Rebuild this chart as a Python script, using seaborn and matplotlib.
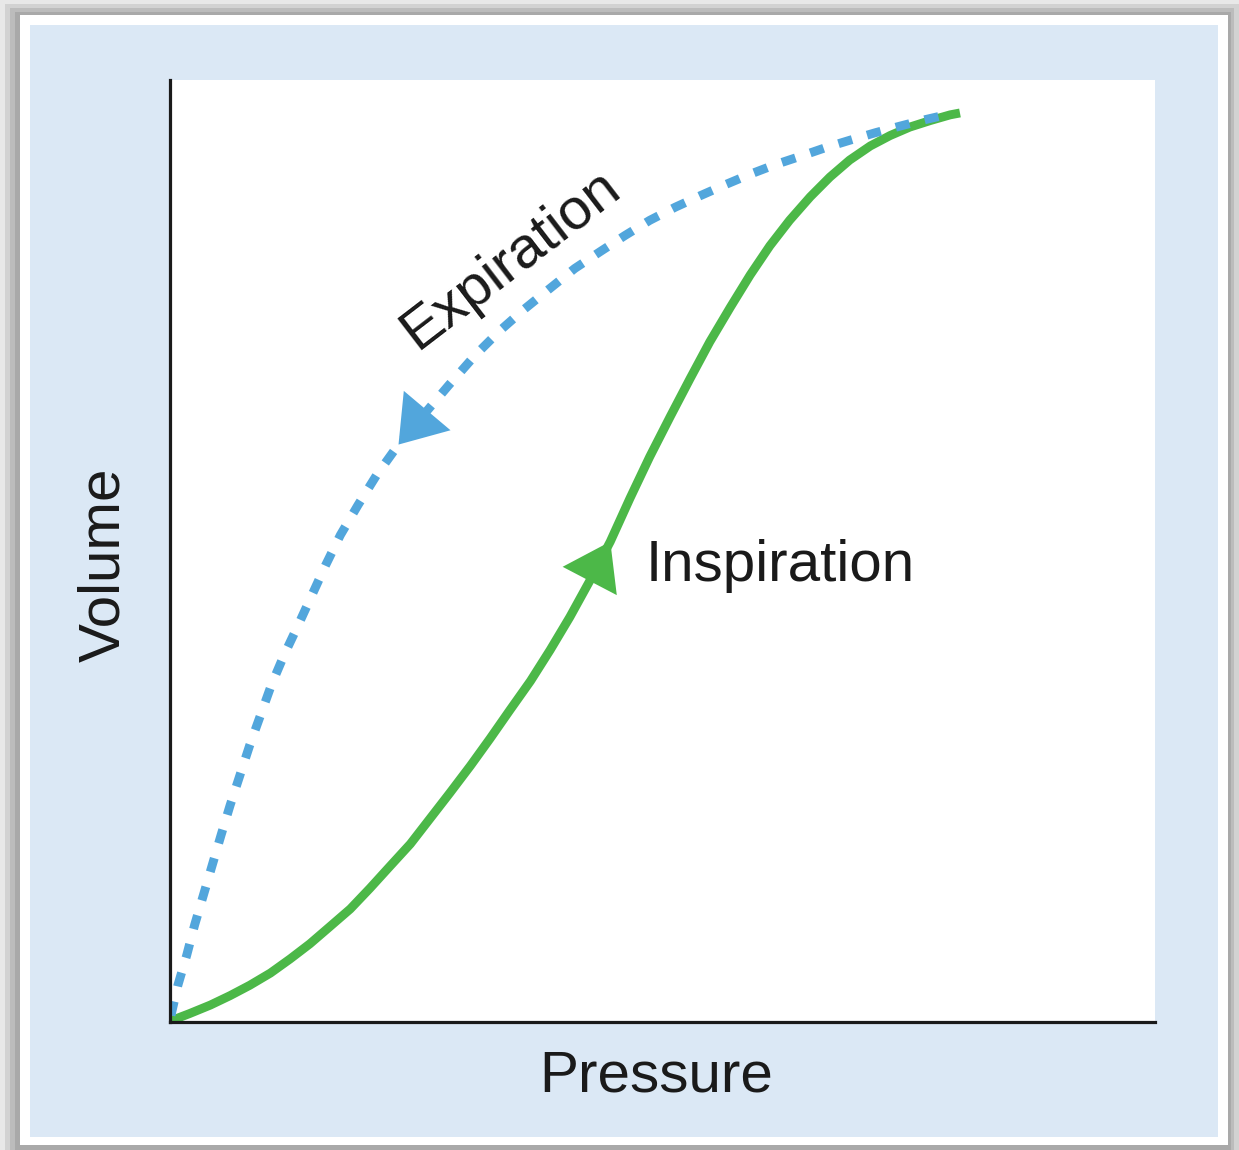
import matplotlib
matplotlib.use("Agg")
import matplotlib.pyplot as plt
from matplotlib.patches import Rectangle
import pandas as pd
import seaborn as sns

# Inspiration limb (solid green), pressure vs volume in arbitrary units
insp_pressure = [0.0, 2.0, 4.1, 6.1, 8.1, 10.2, 12.2, 14.2, 16.2, 18.3, 20.3, 22.3, 24.4,
                 26.4, 28.4, 30.5, 32.5, 34.5, 36.6, 38.6, 40.6, 42.6, 44.7, 46.7, 48.7,
                 50.8, 52.8, 54.8, 56.9, 58.9, 60.9, 62.9, 65.0, 67.0, 69.0, 71.1, 73.1,
                 75.1, 77.2, 79.2, 80.2]
insp_volume = [0.1, 0.9, 1.8, 2.8, 3.9, 5.2, 6.7, 8.3, 10.1, 12.0, 14.2, 16.5, 18.9,
               21.6, 24.3, 27.2, 30.1, 33.1, 36.2, 39.5, 43.0, 46.8, 51.0, 55.6, 60.0,
               64.3, 68.3, 72.2, 75.9, 79.3, 82.4, 85.1, 87.6, 89.7, 91.5, 93.0, 94.1,
               95.0, 95.7, 96.3, 96.5]

# Expiration limb (dashed blue)
exp_pressure = [0.1, 0.8, 1.7, 2.5, 3.4, 4.3, 5.2, 6.1, 7.1, 8.1, 9.2, 10.3, 11.6, 13.0,
                14.4, 15.8, 17.3, 19.1, 21.0, 23.2, 25.7, 28.3, 31.0, 33.5, 36.0, 38.6,
                41.1, 43.7, 46.2, 48.7, 51.3, 53.8, 56.4, 58.9, 61.4, 64.0, 66.5, 69.0,
                71.6, 74.1, 76.7, 79.2]
exp_volume = [0.7, 3.9, 7.1, 10.3, 13.5, 16.7, 19.9, 23.0, 26.2, 29.4, 32.6, 35.8, 39.0,
              42.1, 45.3, 48.5, 51.7, 54.9, 58.1, 61.3, 64.4, 67.6, 70.8, 73.4, 75.7,
              77.9, 80.0, 81.8, 83.5, 85.1, 86.5, 87.7, 88.9, 90.0, 91.0, 91.9, 92.8,
              93.6, 94.4, 95.1, 95.8, 96.4]

phases = ["Inspiration", "Expiration"]
x_label = "Pressure"
y_label = "Volume"

# direction arrows sit on these segments (from -> to)
insp_arrow = (21, 22)
exp_arrow = (20, 19)

GREEN = "#4cb848"
BLUE = "#52a6dc"
FRAME_BLUE = "#dbe8f5"
INK = "#1a1a1a"

df = pd.concat([
    pd.DataFrame({"pressure": insp_pressure, "volume": insp_volume, "phase": phases[0]}),
    pd.DataFrame({"pressure": exp_pressure, "volume": exp_volume, "phase": phases[1]}),
], ignore_index=True)

sns.set_style("white")
plt.rcParams["font.family"] = ["Liberation Sans", "DejaVu Sans"]

W, H = 1239, 1150
fig = plt.figure(figsize=(W / 100, H / 100), dpi=100)
fig.patch.set_facecolor("#e8e8e8")


def px_rect(x0, y0, x1, y1, color):
    fig.patches.append(Rectangle((x0 / W, 1 - y1 / H), (x1 - x0) / W, (y1 - y0) / H,
                                 transform=fig.transFigure, facecolor=color,
                                 edgecolor="none", zorder=-10))


# outer shadowed frame, white mat and light-blue panel
px_rect(5, 4, 1239, 1150, "#d2d2d2")
px_rect(10, 8, 1234, 1150, "#bcbcbc")
px_rect(15, 12, 1231, 1150, "#a9a9a9")
px_rect(20, 15, 1228, 1145, "white")
px_rect(30, 25, 1218, 1137, FRAME_BLUE)

ax = fig.add_axes([170 / W, 1 - 1022 / H, 985 / W, 942 / H])
ax.set_facecolor("white")

sns.lineplot(data=df, x="pressure", y="volume", hue="phase", style="phase",
             palette={phases[0]: GREEN, phases[1]: BLUE},
             dashes={phases[0]: "", phases[1]: (1.6, 1.75)},
             linewidth=6.4, sort=False, estimator=None, legend=False, ax=ax)
for line in ax.lines:
    line.set_dash_capstyle("butt")
    line.set_solid_capstyle("butt")
    line.set_solid_joinstyle("round")
    line.set_dash_joinstyle("round")

# arrowheads showing the direction of each limb
for xs, ys, (i0, i1), col in [(insp_pressure, insp_volume, insp_arrow, GREEN),
                              (exp_pressure, exp_volume, exp_arrow, BLUE)]:
    ax.annotate("", xy=(xs[i1], ys[i1]), xytext=(xs[i0], ys[i0]),
                arrowprops=dict(arrowstyle="-|>,head_length=3.2,head_width=2.2",
                                color=col, lw=0, shrinkA=0, shrinkB=0,
                                mutation_scale=10),
                zorder=5)

ax.set_xlim(0, 100)
ax.set_ylim(0, 100)
ax.set_xticks([])
ax.set_yticks([])
for side in ["top", "right"]:
    ax.spines[side].set_visible(False)
for side in ["left", "bottom"]:
    ax.spines[side].set_color(INK)
    ax.spines[side].set_linewidth(2.3)

ax.set_xlabel(x_label, fontsize=42, color=INK)
ax.xaxis.set_label_coords(0.494, -0.058)
ax.xaxis.label.set_verticalalignment("center")
ax.set_ylabel(y_label, fontsize=42, color=INK)
ax.yaxis.set_label_coords(-0.067, 0.485)
ax.yaxis.label.set_verticalalignment("center")

ax.text(48.3, 46.8, phases[0], fontsize=42, color=INK,
        ha="left", va="baseline")
ax.text(35.5, 79.7, phases[1], fontsize=42, color=INK,
        ha="center", va="baseline", rotation=37.5, rotation_mode="anchor")

fig.savefig("out.png", dpi=100, facecolor=fig.get_facecolor())
